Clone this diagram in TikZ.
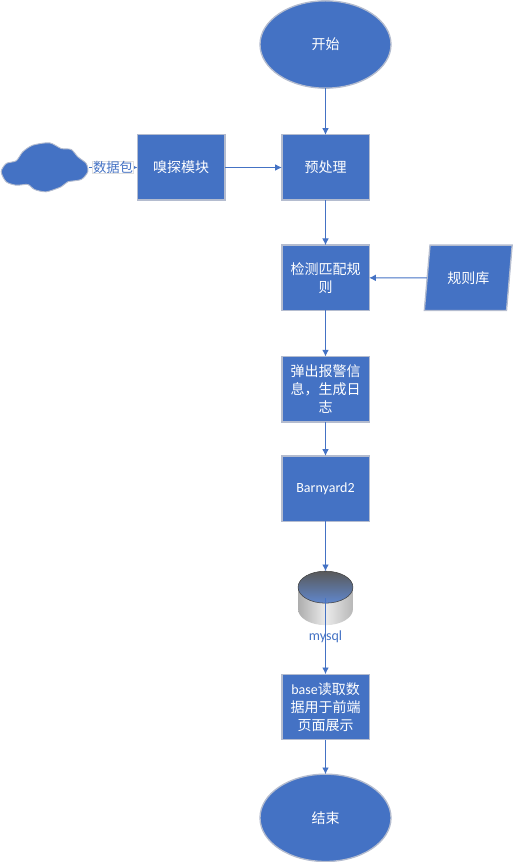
\documentclass[tikz,border=0pt]{standalone}
\usepackage{fontspec}
\setmainfont{Noto Sans CJK SC}
\newfontfamily\latinfont{Carlito}
\usetikzlibrary{positioning, shapes.geometric, arrows.meta}
\definecolor{flowblue}{HTML}{4472C4}
\definecolor{flowedge}{HTML}{B4BCCF}
\begin{document}
\begin{tikzpicture}[
        x=0.75pt, y=-0.75pt,
        every node/.style = {font=\fontsize{10.5pt}{13.5pt}\selectfont, inner sep=0pt, outer sep=0pt},
        conn/.style = {draw=flowblue, line width=0.7pt, -{Latex[length=5pt, width=5pt]}},
        proc/.style = {rectangle, draw=flowedge, line width=1pt, fill=flowblue, text=white, align=center, minimum width=65.5pt, minimum height=49pt}, % Blocks
        term/.style = {ellipse, draw=flowedge, line width=1pt, fill=flowblue, text=white, minimum width=98.25pt, minimum height=65.5pt},
        store/.style = {trapezium, trapezium left angle=76.5, trapezium right angle=103.5, draw=flowedge, line width=1pt, fill=flowblue, text=white, minimum width=66pt, minimum height=49pt, trapezium stretches=true},
    ]
    \useasboundingbox (0,0) rectangle (513,862);

    % Main column
    \node[term] (start) at (325.5,44.5) {开始};
    \node[proc, below=35pt of start] (prep) {预处理};
    \node[proc, below=33.75pt of prep] (detect) {检测匹配规\\则};
    \node[proc, below=34.5pt of detect] (alert) {弹出报警信\\息，生成日\\志};
    \node[proc, below=25.5pt of alert] (barn) {\latinfont Barnyard2};
    \node[minimum width=41.25pt, minimum height=40.5pt, below=37.5pt of barn] (db) {};
    \node[below=4.5pt of db, text=flowblue] (dbname) {\latinfont mysql};
    \node[proc, below=36.75pt of db] (base) {{\latinfont base}读取数\\据用于前端\\页面展示};
    \node[term, below=26pt of base] (stop) {结束};

    % Side blocks
    \node[proc, left=42.75pt of prep] (sniff) {嗅探模块};
    \node[minimum width=66pt, minimum height=36pt, left=36.75pt of sniff] (net) {};
    \node[store, right=43.5pt of detect] (rules) {规则库};

    % Cloud outline
    \begin{scope}[shift={(net.center)}]
        \filldraw[fill=flowblue, draw=flowedge, line width=0.7pt] plot[smooth cycle, tension=0.45] coordinates {(-43.3,4.3) (-38.3,-4) (-28.3,-6.7) (-21.7,-15.7) (-11.7,-22.3) (5,-24.7) (16.7,-19) (26.7,-18) (33.3,-10.7) (41.7,-4) (43.3,4.3) (36.7,12) (23.3,14.3) (16.7,19.3) (1.7,24.3) (-10,22) (-16.7,17) (-28.3,17.7) (-38.3,14.3)};
    \end{scope}

    % Database drum
    \begin{scope}[shift={(db.center)}, x=1pt, y=1pt]
        \path[left color=black!32, right color=black!28, middle color=black!8] (-20.6,8.25) -- (-20.6,-8.25) arc[start angle=180, end angle=360, x radius=20.6, y radius=12] -- (20.6,8.25) -- cycle;
        \path[top color=black!65, bottom color=flowblue!85!white, draw=black!75, line width=0.4pt] (0,8.25) ellipse [x radius=20.6, y radius=12];
    \end{scope}

    \draw[conn] (start) -- (prep);
    \draw[conn] (sniff) -- (prep);
    \draw[conn] (prep) -- (detect);
    \draw[conn] (rules) -- (detect);
    \draw[conn] (detect) -- (alert);
    \draw[conn] (alert) -- (barn);
    \draw[conn] (barn) -- (db);
    \draw[conn] (db.center) -- (base);
    \draw[conn] (base) -- (stop);
    \draw[conn] (net) -- (sniff) node[midway, fill=white, draw=black!12, line width=0.3pt, text=flowblue, font=\fontsize{10pt}{13.5pt}\selectfont, inner xsep=0.5pt] (pktlabel) {数据包};
\end{tikzpicture}
\end{document}
